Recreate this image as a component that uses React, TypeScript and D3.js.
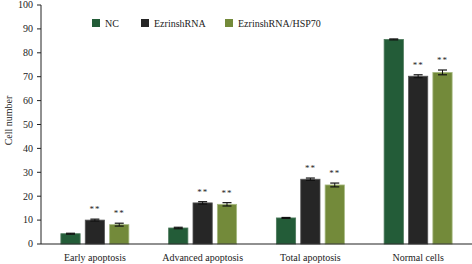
import React from "react";
import * as d3 from "d3";

const categories = ["Early apoptosis", "Advanced apoptosis", "Total apoptosis", "Normal cells"];
const seriesNames = ["NC", "EzrinshRNA", "EzrinshRNA/HSP70"];
const ncValues = [4.3, 6.7, 10.9, 85.6];
const ezrinValues = [10.0, 17.2, 27.1, 70.2];
const hspValues = [8.1, 16.6, 24.7, 71.8];
const ncErr = [0.2, 0.3, 0.2, 0.2];
const ezrinErr = [0.4, 0.5, 0.5, 0.6];
const hspErr = [0.6, 0.7, 0.8, 1.0];
const ezrinStars = ["**", "**", "**", "**"];
const hspStars = ["**", "**", "**", "**"];
const yTicks = [0, 10, 20, 30, 40, 50, 60, 70, 80, 90, 100];

const fills = ["#235c38", "#262626", "#738a3a"];
const strokes = ["#4d7a5c", "#555555", "#a7ba82"];

const W = 472;
const H = 264;
const FONT = "'Liberation Serif', 'Times New Roman', serif";

export default function App() {
  const left = 41;
  const right = 472;
  const top = 5;
  const bottom = 244;

  const x = d3.scaleBand<string>().domain(categories).range([left, right]).paddingInner(0).paddingOuter(0);
  const inner = d3.scaleBand<string>().domain(seriesNames).range([-34, 34]).paddingInner(0.21).paddingOuter(0);
  const y = d3.scaleLinear().domain([0, 100]).range([bottom, top]);

  const vals = [ncValues, ezrinValues, hspValues];
  const errs = [ncErr, ezrinErr, hspErr];
  const stars = [null, ezrinStars, hspStars];

  return (
    <svg width={W} height={H} style={{ position: "absolute", left: 0, top: 0, fontFamily: FONT }}>
      <rect width={W} height={H} fill="#fff" />
      {categories.map((c, ci) => {
        const cx = (x(c) as number) + x.bandwidth() / 2;
        return (
          <g key={c}>
            {seriesNames.map((s, si) => {
              const v = vals[si][ci];
              const e = errs[si][ci];
              const bx = cx + (inner(s) as number);
              const bw = inner.bandwidth();
              const mid = bx + bw / 2;
              const st = stars[si];
              return (
                <g key={s}>
                  <rect x={bx} y={y(v)} width={bw} height={y(0) - y(v)} fill={fills[si]} stroke={strokes[si]} strokeWidth={0.8} />
                  <line x1={mid} x2={mid} y1={y(v + e)} y2={y(v - e)} stroke="#111" strokeWidth={1} />
                  <line x1={mid - 4.5} x2={mid + 4.5} y1={y(v + e)} y2={y(v + e)} stroke="#111" strokeWidth={1.2} />
                  <line x1={mid - 4.5} x2={mid + 4.5} y1={y(v - e)} y2={y(v - e)} stroke="#111" strokeWidth={1.2} />
                  {st && (
                    <text x={mid} y={y(v + e) - 7} textAnchor="middle" fontSize={9} fill="#222" letterSpacing={1}>
                      {st[ci]}
                    </text>
                  )}
                </g>
              );
            })}
            <text x={cx} y={261} textAnchor="middle" fontSize={10} fill="#222">
              {c}
            </text>
          </g>
        );
      })}
      {/* axes */}
      <line x1={left} x2={left} y1={top} y2={bottom} stroke="#222" strokeWidth={1} />
      <line x1={left} x2={right} y1={bottom} y2={bottom} stroke="#222" strokeWidth={1.2} />
      {yTicks.map((t) => (
        <g key={t}>
          <line x1={left - 4} x2={left} y1={y(t)} y2={y(t)} stroke="#222" strokeWidth={1} />
          <text x={left - 8} y={y(t)} dy="0.33em" textAnchor="end" fontSize={10} fill="#222">
            {t}
          </text>
        </g>
      ))}
      <text transform={`translate(12,${(top + bottom) / 2 - 4}) rotate(-90)`} textAnchor="middle" fontSize={10} fill="#222">
        Cell number
      </text>
      {/* legend */}
      {seriesNames.map((s, si) => {
        const lx = [92, 141, 225][si];
        return (
          <g key={s}>
            <rect x={lx} y={19} width={8} height={8} fill={fills[si]} />
            <text x={lx + 13} y={23} dy="0.35em" fontSize={10} fill="#222">
              {s}
            </text>
          </g>
        );
      })}
    </svg>
  );
}
